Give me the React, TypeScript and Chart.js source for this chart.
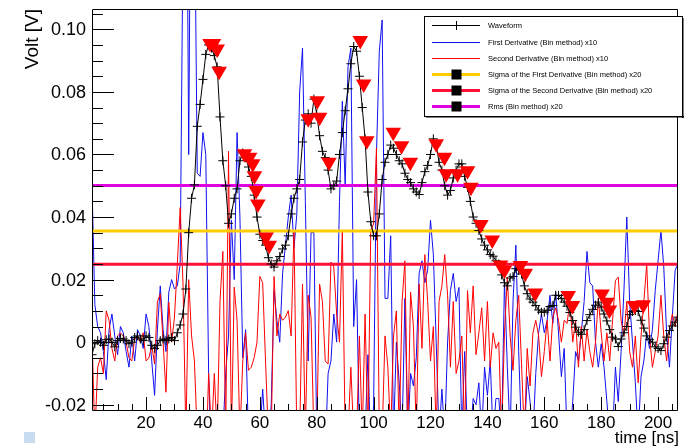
import React, { useEffect, useRef } from 'react';
import { Chart, registerables } from 'chart.js';

Chart.register(...registerables);

// ---------------- data ----------------
const T_START = 1; // ns, first sample
const T_STEP = 1; // ns between samples

const waveform = [
  -0.004, -0.0005, 0.0005, 0, -0.001, 0.0008, 0.001, 0, -0.0015, 0.0005,
  0.0012, 0.001, 0.0005, -0.0005, 0, 0.0015, 0.002, 0.001, 0.0005, 0.002,
  0.0015, -0.001, -0.002, -0.001, 0.0005, 0.001, 0.0005, 0.001, 0.0015, 0.0005,
  0.003, 0.0055, 0.009, 0.017, 0.035, 0.046, 0.0503, 0.069, 0.076, 0.084,
  0.092, 0.095, 0.094, 0.0916, 0.088, 0.072, 0.058, 0.05, 0.038, 0.041,
  0.046, 0.049, 0.058, 0.0605, 0.059, 0.056, 0.053, 0.047, 0.04, 0.0345,
  0.0325, 0.031, 0.027, 0.025, 0.024, 0.026, 0.0274, 0.0298, 0.031, 0.034,
  0.041, 0.046, 0.049, 0.052, 0.064, 0.071, 0.073, 0.07, 0.0777, 0.073,
  0.066, 0.061, 0.059, 0.055, 0.049, 0.05, 0.0515, 0.06, 0.067, 0.074,
  0.081, 0.089, 0.0945, 0.093, 0.085, 0.075, 0.065, 0.048, 0.0385, 0.034,
  0.034, 0.041, 0.052, 0.0575, 0.06, 0.063, 0.062, 0.06, 0.058, 0.057,
  0.054, 0.052, 0.051, 0.049, 0.048, 0.0472, 0.051, 0.0545, 0.0565, 0.06,
  0.065, 0.063, 0.0575, 0.055, 0.05, 0.047, 0.0485, 0.0525, 0.055, 0.057,
  0.057, 0.053, 0.0495, 0.045, 0.04, 0.038, 0.0357, 0.033, 0.031, 0.0295,
  0.028, 0.0275, 0.026, 0.025, 0.0215, 0.019, 0.018, 0.0205, 0.021, 0.0235,
  0.023, 0.0218, 0.018, 0.0155, 0.0138, 0.0128, 0.0117, 0.0103, 0.0096, 0.0096,
  0.0102, 0.0114, 0.0117, 0.015, 0.0149, 0.014, 0.0128, 0.0115, 0.0095, 0.0069,
  0.0048, 0.0032, 0.0025, 0.004, 0.0069, 0.0088, 0.0105, 0.0118, 0.0128, 0.0112,
  0.009, 0.0068, 0.004, 0.0016, 0.001, -0.0014, 0.001, 0.003, 0.005, 0.0088,
  0.0098, 0.0101, 0.0098, 0.007, 0.0045, 0.002, 0.0008, 0, -0.0015, -0.002,
  -0.0027, -0.0005, 0.0016, 0.0037, 0.0052, 0.0064, 0.008,
];

const firstDerivative = [
  0.05, 0.012, 0.005, 0.003, -0.003, -0.012, 0.004, 0.009, 0.002, -0.004,
  0.005, 0.003, -0.003, -0.008, 0.002, -0.006, 0.004, 0.002, -0.002, 0.009,
  0.005, -0.006, -0.017, 0.004, 0.018, 0.004, -0.003, 0.016, 0.02, 0.017,
  0.018, 0.025, 0.13, 0.2, 0.06, 0.2, 0.15, 0.054, 0.053, 0.067,
  0.06, -0.01, -0.04, -0.05, -0.04, -0.03, -0.03, -0.01, 0.002, 0.039,
  0.02, 0.067, 0.04, -0.005, 0.004, -0.03, -0.035, -0.03, -0.04, -0.03,
  -0.015, -0.03, -0.035, -0.02, 0.0165, 0.007, 0, 0.022, 0.031, 0.04,
  0.047, 0.03, 0.041, 0.08, 0.094, 0.045, -0.006, 0.035, 0.035, -0.03,
  -0.04, -0.03, -0.035, -0.01, -0.006, 0.009, 0.0, 0.045, 0.077, 0.05,
  0.088, 0.094, 0.005, 0.02, -0.03, -0.035, -0.03, -0.004, -0.035, -0.02,
  0.06, 0.093, 0.103, 0.014, 0.014, 0.034, -0.03, 0.0, -0.013, -0.03,
  0.014, -0.03, -0.01, -0.014, -0.005, 0.022, 0.026, 0.019, 0.023, 0.039,
  0.028, 0.0, -0.03, -0.015, -0.03, 0.0, 0.0165, 0.022, 0.013, 0.0175,
  -0.03, -0.003, -0.03, -0.03, -0.018, -0.02, -0.013, -0.03, -0.008, -0.017,
  -0.006, -0.03, -0.018, -0.018, -0.03, 0.0197, -0.008, -0.03, 0.013, 0.031,
  -0.003, -0.03, -0.03, -0.011, -0.019, -0.03, -0.01, 0.003, 0.009, 0.003,
  0.007, 0.015, 0.006, 0.016, 0.003, -0.011, -0.002, -0.03, -0.03, -0.019,
  -0.003, -0.006, 0.003, 0.013, 0.029, 0.019, 0.018, 0.0, -0.008, -0.0005,
  -0.008, -0.019, -0.03, -0.03, -0.008, -0.019, -0.003, 0.0165, 0.04, 0.013,
  0.0, -0.013, -0.03, -0.011, -0.006, 0.003, -0.002, 0.004, 0.0165, 0.026,
  0.0357, 0.024, 0.003, -0.008, 0.008, 0.023, 0.025,
];

const secondDerivative = [
  0.002, -0.03, -0.008, -0.005, -0.01, 0.01, 0.007, -0.002, -0.006, 0.002,
  0.003, 0.002, 0.0, -0.005, -0.006, 0.001, 0.002, 0.0, 0.003, -0.006,
  -0.005, -0.001, -0.007, 0.013, 0.0154, 0.0, -0.016, 0.0128, 0.0, 0.008,
  0.025, 0.043, 0.0186, -0.03, 0.02, 0.002, -0.006, -0.03, -0.04, -0.03,
  -0.04, -0.01, -0.03, -0.01, -0.03, 0.013, 0.029, -0.03, 0.061, -0.03,
  0.0176, 0.007, -0.03, -0.006, 0.003, -0.009, -0.008, -0.005, 0.0, 0.021,
  0.019, -0.006, -0.03, -0.03, 0.021, 0.002, 0.009, 0.007, 0.008, 0.0101,
  0.002, 0.0357, -0.03, -0.03, 0.0186, -0.03, 0.015, 0.008, -0.03, -0.03,
  0.0186, 0.013, -0.006, -0.007, 0.0256, 0.024, 0.009, 0.0, 0.0357, -0.03,
  -0.03, -0.008, -0.03, -0.03, 0.002, -0.03, 0.009, -0.03, 0.0357, 0.0378,
  0.062, -0.03, -0.03, 0.002, -0.008, -0.03, 0.002, 0.01, -0.03, 0.013,
  0.026, -0.03, 0.016, 0.005, -0.03, 0.0186, -0.002, 0.028, 0.013, -0.006,
  0.005, -0.03, 0.013, 0.018, 0.028, 0.015, -0.008, 0.013, -0.01, -0.006,
  0.002, -0.03, 0.0165, 0.003, 0.018, -0.004, 0.003, 0.011, -0.006, 0.013,
  -0.008, 0.003, -0.002, 0.0, -0.03, 0.003, 0.0208, 0.002, -0.009, 0.007,
  0.015, -0.007, -0.03, -0.002, -0.014, 0.003, 0.007, 0.002, -0.011, -0.003,
  0.007, -0.006, 0.008, 0.011, 0.007, 0.0, 0.007, 0.006, 0.013, 0.0,
  0.007, -0.008, 0.005, -0.006, 0.004, -0.003, -0.008, 0.0, 0.014, 0.003,
  -0.006, 0.003, -0.006, 0.007, 0.0197, 0.0208, 0.007, 0.002, 0.013, -0.003,
  -0.008, 0.002, -0.013, 0.002, 0.013, 0.025, 0.002, -0.008, -0.003, 0.002,
  0.015, 0.002, -0.006, 0.004, 0.009, 0.005, 0.01,
];

const peakTimes = [
  42.5, 43.7, 45.0, 45.7,
  54.6, 56.4, 57.5, 58.1, 58.7, 59.3, 62.2, 63.3,
  77.0, 80.2, 81.0, 84.3,
  95.3, 96.5, 97.6,
  106.9, 109.8, 112.9,
  122.0, 124.9, 125.5, 129.5, 133.0, 134.2, 137.7, 141.7, 144.6, 146.0, 151.6, 153.3, 156.8,
  168.4, 169.9, 180.3, 182.0, 182.9, 191.7, 194.8,
];
const peakValues = [
  0.0955, 0.0955, 0.0937, 0.0866,
  0.0602, 0.0591, 0.057, 0.0532, 0.0485, 0.0442, 0.0336, 0.031,
  0.0714, 0.0772, 0.0719, 0.0575,
  0.0964, 0.0825, 0.0644,
  0.0671, 0.0628, 0.0575,
  0.0634, 0.0591, 0.0538, 0.0538, 0.0548, 0.0495, 0.0376, 0.0327, 0.0247, 0.0231, 0.0245, 0.022, 0.0157,
  0.0149, 0.0117, 0.0154, 0.0128, 0.0103, 0.0117, 0.012,
];

const sigmaFirstLevel = 0.0355;
const sigmaSecondLevel = 0.0249;
const rmsLevel = 0.0501;

const X_MIN = 1;
const X_MAX = 207;
const Y_MIN = -0.022;
const Y_MAX = 0.1065;

const xMajorTicks = [20, 40, 60, 80, 100, 120, 140, 160, 180, 200];
const xTickLabels = ['20', '40', '60', '80', '100', '120', '140', '160', '180', '200'];
const xMinorStep = 5;
const yMajorTicks = [-0.02, 0, 0.02, 0.04, 0.06, 0.08, 0.1];
const yTickLabels = ['-0.02', '0', '0.02', '0.04', '0.06', '0.08', '0.10'];
const yMinorStep = 0.005;

const xTitle = 'time [ns]';
const yTitle = 'Volt [V]';

const legendLabels = [
  'Waveform',
  'First Derivative (Bin method) x10',
  'Second Derivative (Bin method) x10',
  'Sigma of the First Derivative (Bin method) x20',
  'Sigma of the Second Derivative (Bin method) x20',
  'Rms (Bin method) x20',
];

// ---------------- styles ----------------
const C_BLUE = '#1010f0';
const C_RED = '#ff0000';
const C_YELLOW = '#ffcc00';
const C_PINKRED = '#ff1038';
const C_MAGENTA = '#e000e0';
const FONT = '"Liberation Sans", Arial, Helvetica, sans-serif';

const times = waveform.map((_, i) => T_START + i * T_STEP);
const toXY = (vals: number[]) => vals.map((v, i) => ({ x: times[i], y: v }));
const hline = (level: number) => [
  { x: X_MIN, y: level },
  { x: X_MAX, y: level },
];

const rootPlugin = {
  id: 'rootPlugin',
  afterDatasetsDraw(chart: any) {
    const { ctx, chartArea: a, scales } = chart;
    const xs = scales.x;
    const ys = scales.y;
    ctx.save();
    ctx.strokeStyle = '#000';
    ctx.lineWidth = 1;

    // frame
    ctx.beginPath();
    ctx.moveTo(a.left + 0.5, a.top + 0.5);
    ctx.lineTo(a.right - 0.5, a.top + 0.5);
    ctx.lineTo(a.right - 0.5, a.bottom - 0.5);
    ctx.lineTo(a.left + 0.5, a.bottom - 0.5);
    ctx.closePath();
    ctx.stroke();

    // y ticks
    ctx.beginPath();
    for (let v = yMajorTicks[0] - 4 * yMinorStep; v <= Y_MAX + 1e-9; v += yMinorStep) {
      if (v < Y_MIN - 1e-9) continue;
      const isMajor = yMajorTicks.some((m) => Math.abs(m - v) < 1e-7);
      const py = Math.round(ys.getPixelForValue(v)) + 0.5;
      ctx.moveTo(a.left, py);
      ctx.lineTo(a.left + (isMajor ? 22 : 11), py);
    }
    // x ticks
    for (let t = xMinorStep; t <= X_MAX; t += xMinorStep) {
      if (t < X_MIN) continue;
      const isMajor = xMajorTicks.includes(t);
      const px = Math.round(xs.getPixelForValue(t)) + 0.5;
      ctx.moveTo(px, a.bottom);
      ctx.lineTo(px, a.bottom - (isMajor ? 14 : 7));
    }
    ctx.stroke();

    // tick labels
    ctx.fillStyle = '#000';
    ctx.font = `18px ${FONT}`;
    ctx.textAlign = 'right';
    ctx.textBaseline = 'middle';
    yMajorTicks.forEach((v, i) => {
      ctx.fillText(yTickLabels[i], a.left - 6, ys.getPixelForValue(v) + 1);
    });
    ctx.font = `17px ${FONT}`;
    ctx.textAlign = 'center';
    xMajorTicks.forEach((t, i) => {
      ctx.fillText(xTickLabels[i], xs.getPixelForValue(t), 423);
    });

    // titles
    ctx.textAlign = 'right';
    ctx.fillText(xTitle, a.right + 1, 438);
    ctx.save();
    ctx.translate(33, a.top);
    ctx.rotate(-Math.PI / 2);
    ctx.font = `19px ${FONT}`;
    ctx.textAlign = 'right';
    ctx.textBaseline = 'middle';
    ctx.fillText(yTitle, 0, 0);
    ctx.restore();

    // legend
    const L = 424, T = 16, R = 683, B = 117;
    ctx.fillStyle = '#fff';
    ctx.fillRect(L, T, R - L, B - T);
    ctx.strokeStyle = '#000';
    ctx.lineWidth = 1;
    ctx.strokeRect(L + 0.5, T + 0.5, R - L - 1, B - T - 1);
    ctx.fillStyle = '#000';
    ctx.fillRect(L + 2, B - 1, R - L - 1, 1.5);
    ctx.fillRect(R - 1, T + 2, 1.5, B - T - 1);

    const rowY = [25, 42, 58, 74, 90, 106];
    const sx0 = 432, sx1 = 480, sxm = 456.5;
    const lineColors = ['#000', C_BLUE, C_RED, C_YELLOW, C_PINKRED, C_MAGENTA];
    rowY.forEach((ry, i) => {
      ctx.strokeStyle = lineColors[i];
      ctx.lineWidth = i >= 3 ? 3 : 1;
      ctx.beginPath();
      ctx.moveTo(sx0, ry + 0.5);
      ctx.lineTo(sx1, ry + 0.5);
      ctx.stroke();
      if (i === 0) {
        ctx.strokeStyle = '#000';
        ctx.lineWidth = 1;
        ctx.beginPath();
        ctx.moveTo(sxm, ry - 4);
        ctx.lineTo(sxm, ry + 5);
        ctx.stroke();
      }
      if (i >= 3) {
        ctx.fillStyle = '#000';
        ctx.fillRect(sxm - 5, ry - 4.5, 10, 10);
      }
      ctx.fillStyle = '#000';
      ctx.font = `7.5px ${FONT}`;
      ctx.textAlign = 'left';
      ctx.textBaseline = 'middle';
      ctx.fillText(legendLabels[i], 488, ry + 0.5);
    });

    // small pad marker in the corner
    ctx.fillStyle = '#c8dcf0';
    ctx.fillRect(24, 432, 11, 11);
    ctx.restore();
  },
};

export default function App() {
  const canvasRef = useRef<HTMLCanvasElement | null>(null);

  useEffect(() => {
    if (!canvasRef.current) return;
    const chart = new Chart(canvasRef.current, {
      type: 'line',
      data: {
        datasets: [
          {
            label: 'peaks',
            data: peakTimes.map((t, i) => ({ x: t, y: peakValues[i] })),
            showLine: false,
            pointStyle: 'triangle',
            rotation: 180,
            pointRadius: 9,
            pointBackgroundColor: C_RED,
            pointBorderColor: C_RED,
            pointBorderWidth: 0,
            order: 0,
            clip: 0,
          } as any,
          {
            label: legendLabels[0],
            data: toXY(waveform),
            borderColor: '#000',
            borderWidth: 1,
            pointStyle: 'cross',
            pointRadius: 4.5,
            pointBorderColor: '#000',
            pointBorderWidth: 1,
            tension: 0,
            order: 1,
            clip: 0,
          } as any,
          {
            label: legendLabels[3],
            data: hline(sigmaFirstLevel),
            borderColor: C_YELLOW,
            borderWidth: 3,
            pointRadius: 0,
            order: 2,
            clip: 0,
          } as any,
          {
            label: legendLabels[4],
            data: hline(sigmaSecondLevel),
            borderColor: C_PINKRED,
            borderWidth: 3,
            pointRadius: 0,
            order: 2,
            clip: 0,
          } as any,
          {
            label: legendLabels[5],
            data: hline(rmsLevel),
            borderColor: C_MAGENTA,
            borderWidth: 3,
            pointRadius: 0,
            order: 2,
            clip: 0,
          } as any,
          {
            label: legendLabels[2],
            data: toXY(secondDerivative),
            borderColor: C_RED,
            borderWidth: 1,
            pointRadius: 0,
            tension: 0,
            order: 3,
            clip: 0,
          } as any,
          {
            label: legendLabels[1],
            data: toXY(firstDerivative),
            borderColor: C_BLUE,
            borderWidth: 1,
            pointRadius: 0,
            tension: 0,
            order: 4,
            clip: 0,
          } as any,
        ],
      },
      options: {
        responsive: false,
        animation: false,
        events: [],
        layout: { padding: { left: 0, right: 2, top: 8, bottom: 0 } },
        plugins: { legend: { display: false }, tooltip: { enabled: false } },
        scales: {
          x: {
            type: 'linear',
            min: X_MIN,
            max: X_MAX,
            grid: { display: false },
            border: { display: false },
            ticks: { display: false },
            afterFit: (s: any) => {
              s.height = 35;
            },
          },
          y: {
            type: 'linear',
            min: Y_MIN,
            max: Y_MAX,
            grid: { display: false },
            border: { display: false },
            ticks: { display: false },
            afterFit: (s: any) => {
              s.width = 92;
            },
          },
        },
      },
      plugins: [rootPlugin],
    } as any);
    return () => chart.destroy();
  }, []);

  return (
    <div style={{ position: 'fixed', left: 0, top: 0, width: 687, height: 446, background: '#fff' }}>
      <canvas ref={canvasRef} width={687} height={446} style={{ display: 'block' }} />
    </div>
  );
}
